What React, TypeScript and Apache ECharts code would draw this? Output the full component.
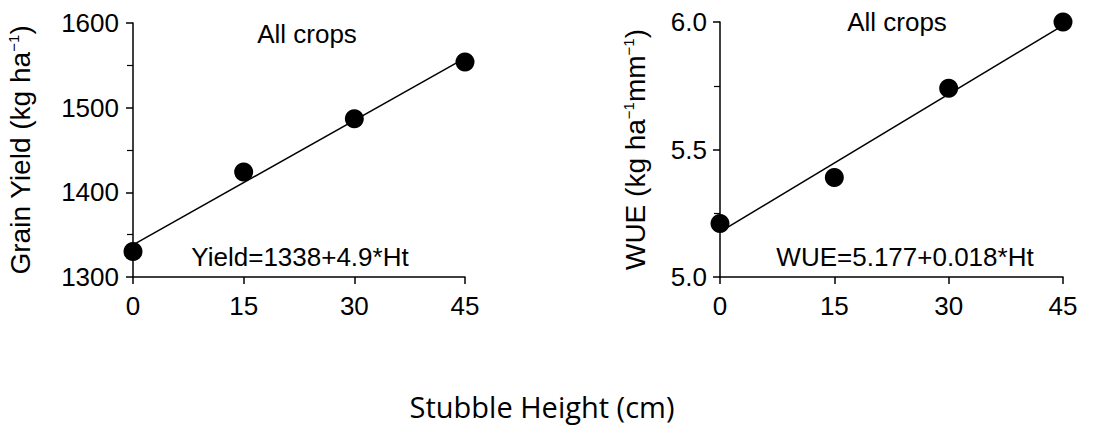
import React, { useEffect, useRef } from "react";
import * as echarts from "echarts";

const heights = [0, 15, 30, 45];
const yieldValues = [1330, 1424, 1487, 1554];
const wueValues = [5.21, 5.39, 5.74, 6.0];
const yieldFit = [[0, 1338], [45, 1558.5]];
const wueFit = [[0, 5.177], [45, 5.987]];
const yieldTicks = [1300, 1400, 1500, 1600];
const wueTicks = [5.0, 5.5, 6.0];
const panelTitle = "All crops";
const yieldEquation = "Yield=1338+4.9*Ht";
const wueEquation = "WUE=5.177+0.018*Ht";
const xTitle = "Stubble Height (cm)";

const FONT = "'Liberation Sans', Arial, Helvetica, sans-serif";

export default function App() {
  const ref = useRef<HTMLDivElement>(null);
  useEffect(() => {
    if (!ref.current) return;
    const chart = echarts.init(ref.current, null, { renderer: "svg" });
    const axisLine = { show: true, lineStyle: { color: "#000", width: 1.5 } };
    const tickStyle = { show: true, length: 7, inside: false, lineStyle: { color: "#000", width: 1.5 } };
    const xAxisBase = (gridIndex: number) => ({
      type: "value",
      gridIndex,
      min: 0,
      max: 45,
      interval: 15,
      axisLine,
      axisTick: tickStyle,
      splitLine: { show: false },
      axisLabel: { color: "#000", fontSize: 26, fontFamily: FONT, margin: 16 },
    });
    const nameRich = {
      a: { fontSize: 28, fontFamily: FONT, color: "#000" },
      s: { fontSize: 15, fontFamily: FONT, color: "#000", verticalAlign: "top", padding: [0, 0, 14, 0] },
    };
    const dotStyle = { color: "#000", opacity: 1 };
    const lineStyle = { color: "#000", width: 1.5 };
    const option: any = {
      animation: false,
      backgroundColor: "#fff",
      grid: [
        { left: 133, top: 23, width: 332, height: 254 },
        { left: 720, top: 22, width: 343, height: 255 },
      ],
      xAxis: [xAxisBase(0), xAxisBase(1)],
      yAxis: [
        {
          type: "value",
          gridIndex: 0,
          min: yieldTicks[0],
          max: yieldTicks[yieldTicks.length - 1],
          interval: 100,
          axisLine,
          axisTick: tickStyle,
          minorTick: { show: true, splitNumber: 2, length: 6, lineStyle: { color: "#000", width: 1.2 } },
          splitLine: { show: false },
          axisLabel: {
            color: "#000",
            fontSize: 26,
            fontFamily: FONT,
            margin: 14,
            formatter: (v: number) => String(v),
          },
          name: "{a|Grain Yield (kg ha}{s|−1}{a|)}",
          nameLocation: "middle",
          nameGap: 98,
          nameTextStyle: { rich: nameRich },
        },
        {
          type: "value",
          gridIndex: 1,
          min: wueTicks[0],
          max: wueTicks[wueTicks.length - 1],
          interval: 0.5,
          axisLine,
          axisTick: tickStyle,
          minorTick: { show: true, splitNumber: 2, length: 6, lineStyle: { color: "#000", width: 1.2 } },
          splitLine: { show: false },
          axisLabel: {
            color: "#000",
            fontSize: 26,
            fontFamily: FONT,
            margin: 13,
            formatter: (v: number) => v.toFixed(1),
          },
          name: "{a|WUE (kg ha}{s|−1}{a|mm}{s|−1}{a|)}",
          nameLocation: "middle",
          nameGap: 70,
          nameTextStyle: { rich: nameRich },
        },
      ],
      series: [
        {
          type: "line",
          xAxisIndex: 0,
          yAxisIndex: 0,
          data: yieldFit,
          symbol: "none",
          lineStyle,
          silent: true,
          z: 1,
        },
        {
          type: "scatter",
          xAxisIndex: 0,
          yAxisIndex: 0,
          data: heights.map((h, i) => [h, yieldValues[i]]),
          symbolSize: 19,
          itemStyle: dotStyle,
          z: 2,
        },
        {
          type: "line",
          xAxisIndex: 1,
          yAxisIndex: 1,
          data: wueFit,
          symbol: "none",
          lineStyle,
          silent: true,
          z: 1,
        },
        {
          type: "scatter",
          xAxisIndex: 1,
          yAxisIndex: 1,
          data: heights.map((h, i) => [h, wueValues[i]]),
          symbolSize: 19,
          itemStyle: dotStyle,
          z: 2,
        },
      ],
      graphic: [
        {
          type: "text",
          x: 307,
          y: 34,
          style: { text: panelTitle, fontSize: 26, fontFamily: FONT, fill: "#000", align: "center", verticalAlign: "middle" },
        },
        {
          type: "text",
          x: 897,
          y: 22,
          style: { text: panelTitle, fontSize: 26, fontFamily: FONT, fill: "#000", align: "center", verticalAlign: "middle" },
        },
        {
          type: "text",
          x: 300,
          y: 257,
          style: { text: yieldEquation, fontSize: 26, fontFamily: FONT, fill: "#000", align: "center", verticalAlign: "middle" },
        },
        {
          type: "text",
          x: 905,
          y: 257,
          style: { text: wueEquation, fontSize: 26, fontFamily: FONT, fill: "#000", align: "center", verticalAlign: "middle" },
        },
        {
          type: "text",
          x: 542,
          y: 406,
          style: {
            text: xTitle,
            fontSize: 29,
            lineHeight: 29,
            fontFamily: "'Open Sans', 'Noto Sans', sans-serif",
            fill: "#000",
            align: "center",
            verticalAlign: "middle",
          },
        },
      ],
    };
    chart.setOption(option);
    return () => chart.dispose();
  }, []);
  return (
    <div
      ref={ref}
      style={{ position: "fixed", left: 0, top: 0, width: 1102, height: 427, background: "#fff" }}
    />
  );
}
